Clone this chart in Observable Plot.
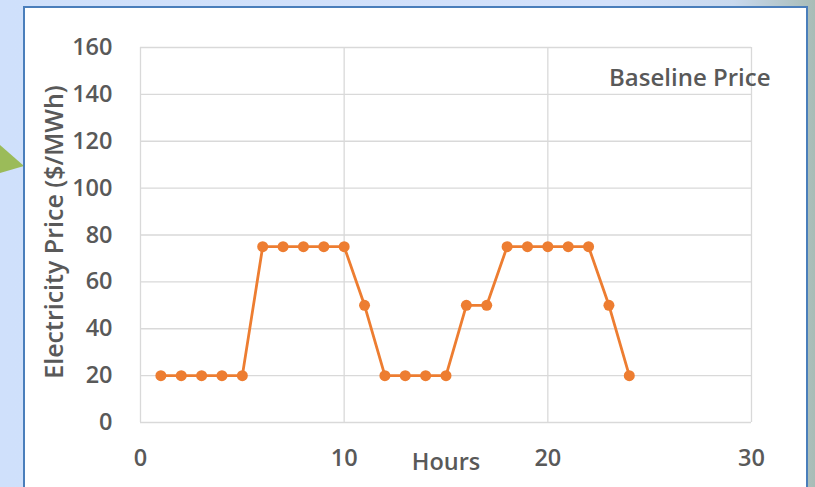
<!DOCTYPE html>
<html>
<head>
<meta charset="utf-8">
<script src="https://cdn.jsdelivr.net/npm/d3@7"></script>
<script src="https://cdn.jsdelivr.net/npm/@observablehq/plot@0.6"></script>
<style>
  html, body { margin: 0; padding: 0; }
  body {
    width: 815px; height: 487px; overflow: hidden; position: relative;
    background: linear-gradient(90deg, #cfe0fb 0%, #d3e1fb 75%, #c9d9ee 90%, #a8bcb6 100%);
    font-family: "Open Sans", Lato, sans-serif;
  }
  #panel {
    position: absolute; left: 23px; top: 6px; width: 785px; height: 500px;
    background: #fff; border: 2px solid #4a7ebb; box-sizing: border-box;
  }
  #arrow {
    position: absolute; left: 0; top: 0; width: 24px; height: 487px;
  }
  #chart { position: absolute; left: 0; top: 0; }
  #legend {
    position: absolute; left: 609px; top: 60px; font-size: 24px; font-weight: 600;
    color: #595959; white-space: nowrap;
  }
</style>
</head>
<body>
<svg id="arrow" width="24" height="487"><polygon points="0,145 24,166 0,173" fill="#9bbb59"/></svg>
<div id="panel"></div>
<div id="chart"></div>
<div id="legend">Baseline Price</div>
<script>
const hours = [1,2,3,4,5,6,7,8,9,10,11,12,13,14,15,16,17,18,19,20,21,22,23,24];
const prices = [20,20,20,20,20,75,75,75,75,75,50,20,20,20,20,50,50,75,75,75,75,75,50,20];
const xTicks = [0,10,20,30];
const yTicks = [0,20,40,60,80,100,120,140,160];
const seriesName = "Baseline Price";
const xLabel = "Hours";
const yLabel = "Electricity Price ($/MWh)";

const data = hours.map((h, i) => ({hour: h, price: prices[i]}));

const chart = Plot.plot({
  width: 815,
  height: 487,
  marginLeft: 140,
  marginRight: 64,
  marginTop: 47,
  marginBottom: 65,
  style: {background: "transparent", fontFamily: "'Open Sans', Lato, sans-serif", fontSize: "24px", color: "#595959"},
  x: {domain: [0, 30], ticks: xTicks},
  y: {domain: [0, 160], ticks: yTicks},
  marks: [
    Plot.gridX(xTicks, {stroke: "#d9d9d9", strokeOpacity: 1, strokeWidth: 1.3}),
    Plot.gridY(yTicks, {stroke: "#d9d9d9", strokeOpacity: 1, strokeWidth: 1.3}),
    Plot.axisX(xTicks, {tickSize: 0, tickPadding: 27, label: null, fill: "#595959", fontSize: 23.5, fontWeight: 600}),
    Plot.axisY(yTicks, {tickSize: 0, tickPadding: 28, label: null, fill: "#595959", fontSize: 23.5, fontWeight: 600}),
    Plot.text([xLabel], {frameAnchor: "bottom", dx: 0, dy: 47, text: d => d, fontWeight: 600, fill: "#595959", fontSize: 23.5}),
    Plot.text([yLabel], {frameAnchor: "left", dx: -86, dy: -3, rotate: -90, textAnchor: "middle", text: d => d, fontWeight: 600, fill: "#595959", fontSize: 25}),
    Plot.line(data, {x: "hour", y: "price", stroke: "#ed7d31", strokeWidth: 2.8}),
    Plot.dot(data, {x: "hour", y: "price", fill: "#ed7d31", r: 5.5, title: () => seriesName})
  ]
});
document.getElementById("chart").appendChild(chart);
</script>
</body>
</html>
